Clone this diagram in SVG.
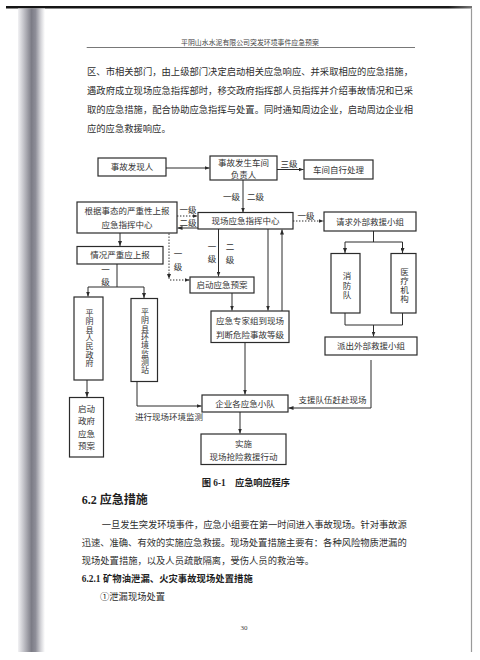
<svg xmlns="http://www.w3.org/2000/svg" width="480" height="660" viewBox="0 0 480 660">
<defs>
<linearGradient id="spine" x1="0" y1="0" x2="1" y2="0">
<stop offset="0" stop-color="#f2f2f4"/>
<stop offset="0.2" stop-color="#c4c4ca"/>
<stop offset="0.5" stop-color="#7c7c86"/>
<stop offset="0.65" stop-color="#8e8e98"/>
<stop offset="0.85" stop-color="#d6d6da"/>
<stop offset="1" stop-color="#ffffff"/>
</linearGradient>
<linearGradient id="topbar" x1="0" y1="0" x2="1" y2="0">
<stop offset="0" stop-color="#151515"/>
<stop offset="0.95" stop-color="#1a1a1a"/>
<stop offset="1" stop-color="#777"/>
</linearGradient>
<marker id="ah" viewBox="0 0 5 4" refX="5" refY="2" markerWidth="5" markerHeight="4" markerUnits="userSpaceOnUse" orient="auto">
<path d="M0,0 L5,2 L0,4 z" fill="#2b2b2b"/>
</marker>
<style>
.box{fill:#fff;stroke:#2b2b2b;stroke-width:1.2}
.ln{fill:none;stroke:#2b2b2b;stroke-width:1}
.arr{marker-end:url(#ah)}
.dot{stroke-dasharray:1.4 1.6}
.t{font-family:"Liberation Serif","Noto Sans CJK SC",serif;font-size:8.5px;fill:#333;text-anchor:middle;dominant-baseline:central}
.v{font-family:"Liberation Serif","Noto Sans CJK SC",serif;font-size:8.5px;fill:#333;writing-mode:vertical-rl;text-anchor:start}
.p{font-family:"Liberation Serif","Noto Sans CJK SC",serif;font-size:9.3px;fill:#2d2d2d;dominant-baseline:central}
.b{font-weight:bold;fill:#1e1e1e}
</style>
</defs>
<rect x="0" y="0" width="480" height="660" fill="#fff"/>
<!-- page artefacts -->
<rect x="6" y="6" width="466" height="2.5" fill="url(#topbar)"/>
<rect x="18" y="8.5" width="27" height="643.5" fill="url(#spine)"/>
<line x1="471.5" y1="8.5" x2="471.5" y2="652" stroke="#9a9a9a" stroke-width="1.2"/>
<!-- header -->
<text x="250" y="42.5" class="p" style="font-size:6.9px;text-anchor:middle;fill:#444">平阴山水水泥有限公司突发环境事件应急预案</text>
<line x1="86.7" y1="47.5" x2="415" y2="47.5" stroke="#555" stroke-width="0.8"/>
<!-- top paragraph -->
<text x="87" y="71.5" class="p" textLength="326" lengthAdjust="spacing">区、市相关部门，由上级部门决定启动相关应急响应、并采取相应的应急措施，</text>
<text x="87" y="90.5" class="p" textLength="326" lengthAdjust="spacing">遇政府成立现场应急指挥部时，移交政府指挥部人员指挥并介绍事故情况和已采</text>
<text x="87" y="109.5" class="p" textLength="326" lengthAdjust="spacing">取的应急措施，配合协助应急指挥与处置。同时通知周边企业，启动周边企业相</text>
<text x="87" y="128.5" class="p">应的应急救援响应。</text>

<!-- connectors -->
<g id="connectors">
<path class="ln arr" d="M166,168 H209.5"/>
<path class="ln arr" d="M277,169.5 H303.5"/>
<path class="ln arr" d="M243,180 V212.5"/>
<path class="ln arr dot" d="M177,216 H197.5"/>
<path class="ln arr" d="M198,228 H177.5"/>
<path class="ln arr dot" d="M293,221 H323.5"/>
<path class="ln arr" d="M120,233 V246"/>
<path class="ln" d="M117,264 V287 M88,287 H144"/>
<path class="ln arr" d="M88,287 V296.5"/>
<path class="ln arr" d="M144,287 V298"/>
<path class="ln arr dot" d="M169,233.5 V279"/>
<path class="ln arr dot" d="M170,280 H189.5"/>
<path class="ln arr" d="M218.5,229 V276.5"/>
<path class="ln arr" d="M268,229 V310.5"/>
<path class="ln arr" d="M282,311 V229.5"/>
<path class="ln arr" d="M232,293 V310.5"/>
<path class="ln arr" d="M245,342.5 V394.5"/>
<path class="ln arr" d="M87,380 V397"/>
<path class="ln arr" d="M137,381.5 V406 H201.5"/>
<path class="ln" d="M373.5,231 V242 M345,242 H402.5"/>
<path class="ln arr" d="M345,242 V253"/>
<path class="ln arr" d="M402.5,242 V253"/>
<path class="ln" d="M345,313 V325 H402.5 V313"/>
<path class="ln arr" d="M373.5,325 V336.5"/>
<path class="ln arr" d="M371,360 V408 H288.5"/>
<path class="ln arr" d="M240,412 V433.5"/>
<!-- connector labels -->
<text class="t" x="289" y="163.5">三级</text>
<text class="t" x="231.5" y="197">一级</text>
<text class="t" x="255.5" y="197">二级</text>
<text class="t" x="188" y="209.5">一级</text>
<text class="t" x="188" y="222.5">二级</text>
<text class="t" x="306" y="215.5">一级</text>
<text class="v" x="104.5" y="265.75" style="letter-spacing:3px">一级</text>
<text class="v" x="177" y="249.75" style="letter-spacing:4px">一级</text>
<text class="v" x="211" y="242.75" style="letter-spacing:3px">一级</text>
<text class="v" x="229" y="242.75" style="letter-spacing:4.5px">二级</text>
<text class="t" x="169" y="417">进行现场环境监测</text>
<text class="t" x="332.5" y="399.5">支援队伍赶赴现场</text>
</g>

<!-- nodes -->
<g id="n-finder"><rect class="box" x="98" y="158" width="68" height="18"/><text class="t" x="132" y="167">事故发现人</text></g>
<g id="n-workshop-head"><rect class="box" x="210" y="156" width="67" height="24"/><text class="t" x="243.5" y="162.5">事故发生车间</text><text class="t" x="243.5" y="175">负责人</text></g>
<g id="n-self"><rect class="box" x="304" y="160" width="69" height="19"/><text class="t" x="338.5" y="169.5">车间自行处理</text></g>
<g id="n-command"><rect class="box" x="198" y="212.5" width="95" height="16.5"/><text class="t" x="245.5" y="220.5">现场应急指挥中心</text></g>
<g id="n-report"><rect class="box" x="77" y="202" width="100" height="31"/><text class="t" x="127" y="210.5">根据事态的严重性上报</text><text class="t" x="127" y="225">应急指挥中心</text></g>
<g id="n-request"><rect class="box" x="324" y="212" width="92" height="19"/><text class="t" x="370" y="221.5">请求外部救援小组</text></g>
<g id="n-serious"><rect class="box" x="77" y="246.5" width="86" height="17.5"/><text class="t" x="120" y="255">情况严重应上报</text></g>
<g id="n-gov"><rect class="box" x="74" y="297" width="29" height="83"/>
<text class="v" x="88.5" y="309" style="font-size:8px;letter-spacing:0.3px">平阴县人民政府</text></g>
<g id="n-monitor"><rect class="box" x="131" y="298.5" width="26.5" height="83"/>
<text class="v" x="144" y="308" style="font-size:8px;letter-spacing:0.3px">平阴县环境监测站</text></g>
<g id="n-govplan"><rect class="box" x="69.5" y="397.5" width="34" height="59.5"/>
<text class="t" x="86.5" y="408.5">启动</text><text class="t" x="86.5" y="421">政府</text><text class="t" x="86.5" y="433.5">应急</text><text class="t" x="86.5" y="446">预案</text></g>
<g id="n-plan"><rect class="box" x="190" y="277" width="64" height="16"/><text class="t" x="222" y="285">启动应急预案</text></g>
<g id="n-expert"><rect class="box" x="211" y="311" width="78" height="31.5"/><text class="t" x="250" y="321">应急专家组到现场</text><text class="t" x="250" y="334.5">判断危险事故等级</text></g>
<g id="n-fire"><rect class="box" x="331" y="253.5" width="29" height="59.5"/>
<text class="v" x="346" y="271.75" style="letter-spacing:1px">消防队</text></g>
<g id="n-medical"><rect class="box" x="391" y="253.5" width="25" height="59.5"/>
<text class="v" x="403.5" y="267.25" style="letter-spacing:0.5px">医疗机构</text></g>
<g id="n-dispatch"><rect class="box" x="325" y="337" width="92" height="18"/><text class="t" x="371" y="346">派出外部救援小组</text></g>
<g id="n-teams"><rect class="box" x="202" y="395" width="86" height="17"/><text class="t" x="245" y="403.5">企业各应急小队</text></g>
<g id="n-action"><rect class="box" x="201" y="434" width="85" height="30.5"/><text class="t" x="243.5" y="444">实施</text><text class="t" x="243.5" y="457">现场抢险救援行动</text></g>

<!-- caption -->
<text x="201.7" y="482.5" class="p b" style="font-size:9.3px">图 6-1</text>
<text x="235" y="482.5" class="p b" style="font-size:9.3px" textLength="55" lengthAdjust="spacing">应急响应程序</text>

<!-- section text -->
<text x="81.7" y="499.5" class="p b" style="font-size:12px">6.2 应急措施</text>
<text x="101.7" y="524.5" class="p" textLength="305" lengthAdjust="spacing">一旦发生突发环境事件，应急小组要在第一时间进入事故现场。针对事故源</text>
<text x="81.7" y="543" class="p" textLength="325" lengthAdjust="spacing">迅速、准确、有效的实施应急救援。现场处置措施主要有：各种风险物质泄漏的</text>
<text x="81.7" y="561" class="p">现场处置措施，以及人员疏散隔离，受伤人员的救治等。</text>
<text x="81.7" y="579" class="p b" textLength="171" lengthAdjust="spacing">6.2.1 矿物油泄漏、火灾事故现场处置措施</text>
<text x="100" y="597" class="p">①泄漏现场处置</text>
<text x="244" y="628" class="p" style="font-size:7px;text-anchor:middle;fill:#444">30</text>
</svg>
